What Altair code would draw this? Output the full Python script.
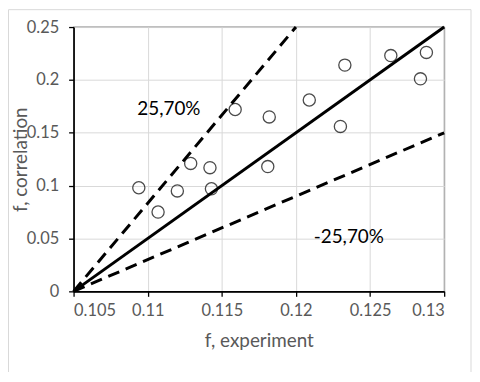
import altair as alt
import pandas as pd

# Measured points
exp_f = [0.1094, 0.1107, 0.1120, 0.1129, 0.1142, 0.1143, 0.1159, 0.1182,
         0.1181, 0.1209, 0.1233, 0.1230, 0.1264, 0.1288, 0.1284]
corr_f = [0.098, 0.075, 0.095, 0.121, 0.117, 0.097, 0.172, 0.165,
          0.118, 0.181, 0.214, 0.156, 0.223, 0.226, 0.201]

# Reference line (solid)
ideal_x = [0.105, 0.13]
ideal_y = [0.0, 0.25]

# Deviation lines (dashed)
dev_name = ["plus", "plus", "minus", "minus"]
dev_x = [0.105, 0.120, 0.105, 0.13]
dev_y = [0.0, 0.25, 0.0, 0.15]

# Annotations
label_text = ["25,70%", "-25,70%"]
label_x = [0.1093, 0.1212]
label_y = [0.1727, 0.0517]

x_ticks = [0.105, 0.11, 0.115, 0.12, 0.125, 0.13]
y_ticks = [0, 0.05, 0.1, 0.15, 0.2, 0.25]

pts = pd.DataFrame({"x": exp_f, "y": corr_f})
ideal = pd.DataFrame({"x": ideal_x, "y": ideal_y})
dev = pd.DataFrame({"name": dev_name, "x": dev_x, "y": dev_y})
labels = pd.DataFrame({"t": label_text, "x": label_x, "y": label_y})

W, H = 373, 266
xs = alt.Scale(domain=[0.105, 0.13], nice=False, zero=False)
ys = alt.Scale(domain=[0, 0.25], nice=False)

x_axis = alt.Axis(values=x_ticks, format="~g", title="f, experiment",
                  titleX=W / 2, titleY=50, titleBaseline="middle",
                  titleAlign="center")
y_axis = alt.Axis(values=y_ticks, format="~g", title="f, correlation",
                  titleX=-47, titleY=133, titleBaseline="alphabetic",
                  titleAlign="center", titleAngle=-90)


def X():
    return alt.X("x:Q", scale=xs, axis=x_axis)


def Y():
    return alt.Y("y:Q", scale=ys, axis=y_axis)


frame = alt.Chart(pd.DataFrame({"a": [0]})).mark_rect(
    fill=None, stroke="#d9d9d9", strokeWidth=1
).encode(x=alt.value(-65.5), x2=alt.value(400), y=alt.value(-17.5), y2=alt.value(348))

ideal_line = alt.Chart(ideal).mark_line(color="black", strokeWidth=3).encode(x=X(), y=Y())
dev_lines = alt.Chart(dev).mark_line(color="black", strokeWidth=3, strokeDash=[12, 7]).encode(
    x=X(), y=Y(), detail="name:N")
points = alt.Chart(pts).mark_point(
    shape="circle", filled=False, size=150, color="black", strokeWidth=1.3
).encode(x=X(), y=Y())
texts = alt.Chart(labels).mark_text(
    align="left", baseline="middle", font="Lato", fontSize=19, color="black"
).encode(x=X(), y=Y(), text="t:N")

chart = alt.layer(frame, ideal_line, dev_lines, points, texts).properties(
    width=W, height=H,
    autosize=alt.AutoSizeParams(type="none"),
    padding={"left": 66, "top": 18, "right": 28, "bottom": 80},
).configure_view(
    stroke="black", strokeWidth=1.2
).configure_axis(
    domainColor="black", domainWidth=1.6,
    tickColor="black", tickWidth=1.3, tickSize=5,
    gridColor="#d9d9d9", gridWidth=1,
    labelFont="Lato", labelFontSize=16.5, labelColor="#595959",
    titleFont="Lato", titleFontSize=19, titleFontWeight="normal", titleColor="#595959",
).configure_axisX(
    labelPadding=6
).configure_axisY(
    labelPadding=10
)

chart.save("out.html", embed_options={"renderer": "svg", "actions": False})
